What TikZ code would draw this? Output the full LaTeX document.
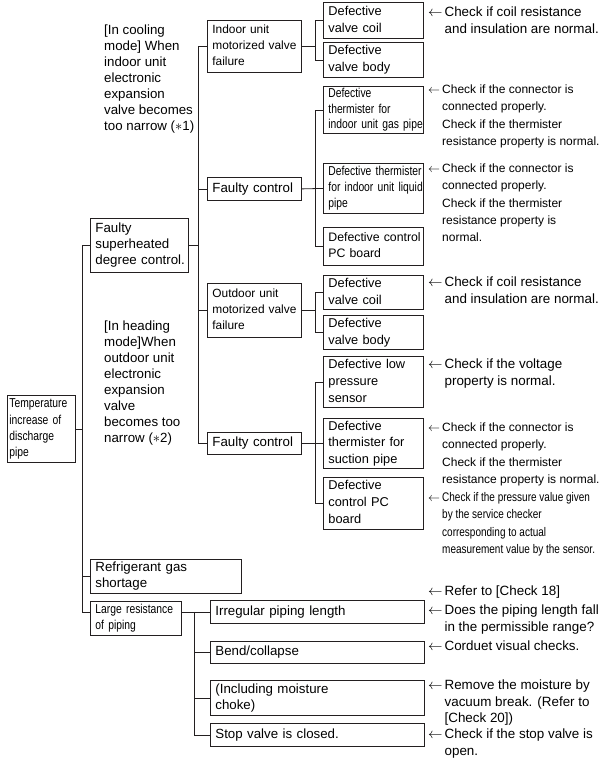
\documentclass[tikz,border=0pt]{standalone}
\usepackage{fontspec}
\usepackage{tikz}
\usepackage{xcolor}
\setmainfont{Liberation Sans}
\newfontfamily\narrowfont{Liberation Sans}[FakeStretch=0.8]
\usetikzlibrary{positioning}
\definecolor{ink}{HTML}{231F20}
\newcommand{\boxfont}{\fontsize{13.3}{16}\selectfont}
\newcommand{\slimfont}{\narrowfont\fontsize{12.9}{15.6}\selectfont}
\newcommand{\boxlines}[1]{\begin{tabular}{@{}l@{}}#1\end{tabular}}
\newcommand{\checklines}[1]{$\leftarrow$\hspace{2pt}\begin{tabular}[t]{@{}l@{}}#1\end{tabular}}
\tikzset{
  faultbox/.style={draw=ink,line width=0.8pt,anchor=north west,align=left,
                   inner xsep=5pt,inner ysep=0pt,font=\boxfont},
  narrowbox/.style={faultbox,font=\slimfont},
  midbox/.style={faultbox,minimum width=94pt,text width=84pt},
  leafbox/.style={faultbox,minimum width=100pt,text width=90pt,
                  font=\fontsize{12.8}{16.8}\selectfont},
  pipebox/.style={faultbox,minimum width=214pt,text width=204pt},
  checknote/.style={anchor=base west,inner sep=0pt,font=\fontsize{13.4}{17.3}\selectfont},
  modenote/.style={anchor=base west,inner sep=0pt,font=\fontsize{13.3}{16}\selectfont},
  treeline/.style={draw=ink,line width=0.8pt}
}

\begin{document}
\begin{tikzpicture}[x=1pt,y=-1pt]
  \useasboundingbox (0,0) rectangle (602,758);
  % fork positions
  \coordinate (trunk) at (82,0);
  \coordinate (fork) at (198,0);
  \coordinate (forkb) at (315,0);
  \coordinate (forkc) at (194,0);
  % root and first level
  \node[narrowbox,font=\narrowfont\fontsize{12.9}{16.2}\selectfont,minimum width=68pt,minimum height=67pt,
        text width=64pt,inner xsep=2pt] (root) at (7,395)
    {\boxlines{Temperature\\increase of\\discharge\\pipe}};
  \node[faultbox,minimum width=98pt,minimum height=54pt,text width=88pt] (sup) at (90,218)
    {\boxlines{Faulty\\superheated\\degree control.}};
  \node[faultbox,minimum width=151pt,minimum height=34pt,text width=141pt] (gas) at (90,559)
    {\boxlines{Refrigerant gas\\shortage}};
  \node[narrowbox,minimum width=91pt,minimum height=34pt,text width=81pt] (large) at (90,601)
    {\boxlines{Large resistance\\of piping}};
  % mode notes
  \node[modenote] (cool) at (104,34.5) {\begin{tabular}[t]{@{}l@{}}{[}In cooling\\mode] When\\indoor unit\\electronic\\expansion\\valve becomes\\too narrow ($*$1)\end{tabular}};
  \node[modenote] (heat) at (104,330.5) {\begin{tabular}[t]{@{}l@{}}{[}In heading\\mode]When\\outdoor unit\\electronic\\expansion\\valve\\becomes too\\narrow ($*$2)\end{tabular}};
  % second level
  \node[midbox,font=\fontsize{11.9}{16}\selectfont,minimum height=52pt] (indv) at (207,20)
    {\boxlines{Indoor unit\\motorized valve\\failure}};
  \node[midbox,minimum height=23pt] (fc1) at (207,177) {\boxlines{Faulty control}};
  \node[midbox,font=\fontsize{11.9}{16}\selectfont,minimum height=54pt] (outv) at (207,283)
    {\boxlines{Outdoor unit\\motorized valve\\failure}};
  \node[midbox,minimum height=22pt] (fc2) at (207,432) {\boxlines{Faulty control}};
  % indoor side leaves
  \node[leafbox,minimum height=36pt] (icoil) at (323,2) {\boxlines{Defective\\valve coil}};
  \node[leafbox,minimum height=35pt] (ibody) at (323,42) {\boxlines{Defective\\valve body}};
  \node[leafbox,font=\slimfont,minimum height=47pt] (igas) at (323,86)
    {\boxlines{Defective\\thermister for\\indoor unit gas pipe}};
  \node[leafbox,font=\slimfont,minimum height=50pt] (iliq) at (323,163)
    {\boxlines{Defective thermister\\for indoor unit liquid\\pipe}};
  \node[leafbox,font=\fontsize{12.3}{16}\selectfont,minimum height=38pt] (ipcb) at (323,227)
    {\boxlines{Defective control\\PC board}};
  % outdoor side leaves
  \node[leafbox,minimum height=34pt] (ocoil) at (323,275) {\boxlines{Defective\\valve coil}};
  \node[leafbox,minimum height=34pt] (obody) at (323,315) {\boxlines{Defective\\valve body}};
  \node[leafbox,minimum height=51pt] (olow) at (323,356) {\boxlines{Defective low\\pressure\\sensor}};
  \node[leafbox,minimum height=49pt] (osuct) at (323,418) {\boxlines{Defective\\thermister for\\suction pipe}};
  \node[leafbox,minimum height=52pt] (opcb) at (323,477) {\boxlines{Defective\\control PC\\board}};
  % piping leaves
  \node[pipebox,minimum height=23pt] (irr) at (210,600) {\boxlines{Irregular piping length}};
  \node[pipebox,minimum height=22pt] (bend) at (210,641) {\boxlines{Bend/collapse}};
  \node[pipebox,minimum height=35pt] (moist) at (210,680) {\boxlines{(Including moisture\\choke)}};
  \node[pipebox,minimum height=23pt] (stop) at (210,723) {\boxlines{Stop valve is closed.}};
  % check notes
  \node[checknote] (n1) at (428,16.5) {\checklines{Check if coil resistance\\and insulation are normal.}};
  \node[checknote,font=\fontsize{12}{17.4}\selectfont] (n2) at (428,93.5)
    {\checklines{Check if the connector is\\connected properly.\\Check if the thermister\\resistance property is normal.}};
  \node[checknote,font=\fontsize{12}{17.3}\selectfont] (n3) at (428,172.5)
    {\checklines{Check if the connector is\\connected properly.\\Check if the thermister\\resistance property is\\normal.}};
  \node[checknote] (n4) at (428,286.5) {\checklines{Check if coil resistance\\and insulation are normal.}};
  \node[checknote] (n5) at (428,368.5) {\checklines{Check if the voltage\\property is normal.}};
  \node[checknote,font=\fontsize{12}{17.3}\selectfont] (n6) at (428,431.5)
    {\checklines{Check if the connector is\\connected properly.\\Check if the thermister\\resistance property is normal.}};
  \node[checknote,font=\narrowfont\fontsize{12.5}{17.3}\selectfont] (n7) at (428,501.5)
    {\checklines{Check if the pressure value given\\by the service checker\\corresponding to actual\\measurement value by the sensor.}};
  \node[checknote] (n8) at (428,595.5) {\checklines{Refer to {[}Check 18{]}}};
  \node[checknote] (n9) at (428,614.5) {\checklines{Does the piping length fall\\in the permissible range?}};
  \node[checknote] (n10) at (428,650.5) {\checklines{Corduet visual checks.}};
  \node[checknote,font=\fontsize{13.4}{16.5}\selectfont] (n11) at (428,689.5)
    {\checklines{Remove the moisture by\\vacuum break. (Refer to\\{[}Check 20{]})}};
  \node[checknote,font=\fontsize{13.4}{16.8}\selectfont] (n12) at (428,738.5)
    {\checklines{Check if the stop valve is\\open.}};
  % trunk
  \draw[treeline] (root.east) -- (root.east -| trunk);
  \draw[treeline] (sup.west) -| (trunk |- irr.west) -- (large.west |- irr.west);
  \draw[treeline] (gas.west) -- (gas.west -| trunk);
  % superheat fork
  \draw[treeline] (sup.east) -- (sup.east -| fork);
  \draw[treeline] (indv.west) -| (fork |- fc2.west) -- (fc2.west);
  \draw[treeline] (fc1.west) -- (fc1.west -| fork);
  \draw[treeline] (outv.west) -- (outv.west -| fork);
  % indoor valve and control
  \draw[treeline] (indv.east) -- (indv.east -| forkb);
  \draw[treeline] (icoil.west) -| (forkb |- ibody.west) -- (ibody.west);
  \draw[treeline] (fc1.east) -- (iliq.west);
  \draw[treeline] (igas.west) -| (forkb |- ipcb.west) -- (ipcb.west);
  % outdoor valve and control
  \draw[treeline] (outv.east) -- (outv.east -| forkb);
  \draw[treeline] (ocoil.west) -| (forkb |- obody.west) -- (obody.west);
  \draw[treeline] (fc2.east) -- (fc2.east -| forkb);
  \draw[treeline] (olow.west) -| (forkb |- opcb.west) -- (opcb.west);
  \draw[treeline] (osuct.west) -- (osuct.west -| forkb);
  % piping fork
  \draw[treeline] (large.east |- irr.west) -- (irr.west);
  \draw[treeline] (forkc |- irr.west) |- (stop.west);
  \draw[treeline] (bend.west) -- (bend.west -| forkc);
  \draw[treeline] (moist.west) -- (moist.west -| forkc);
\end{tikzpicture}
\end{document}
